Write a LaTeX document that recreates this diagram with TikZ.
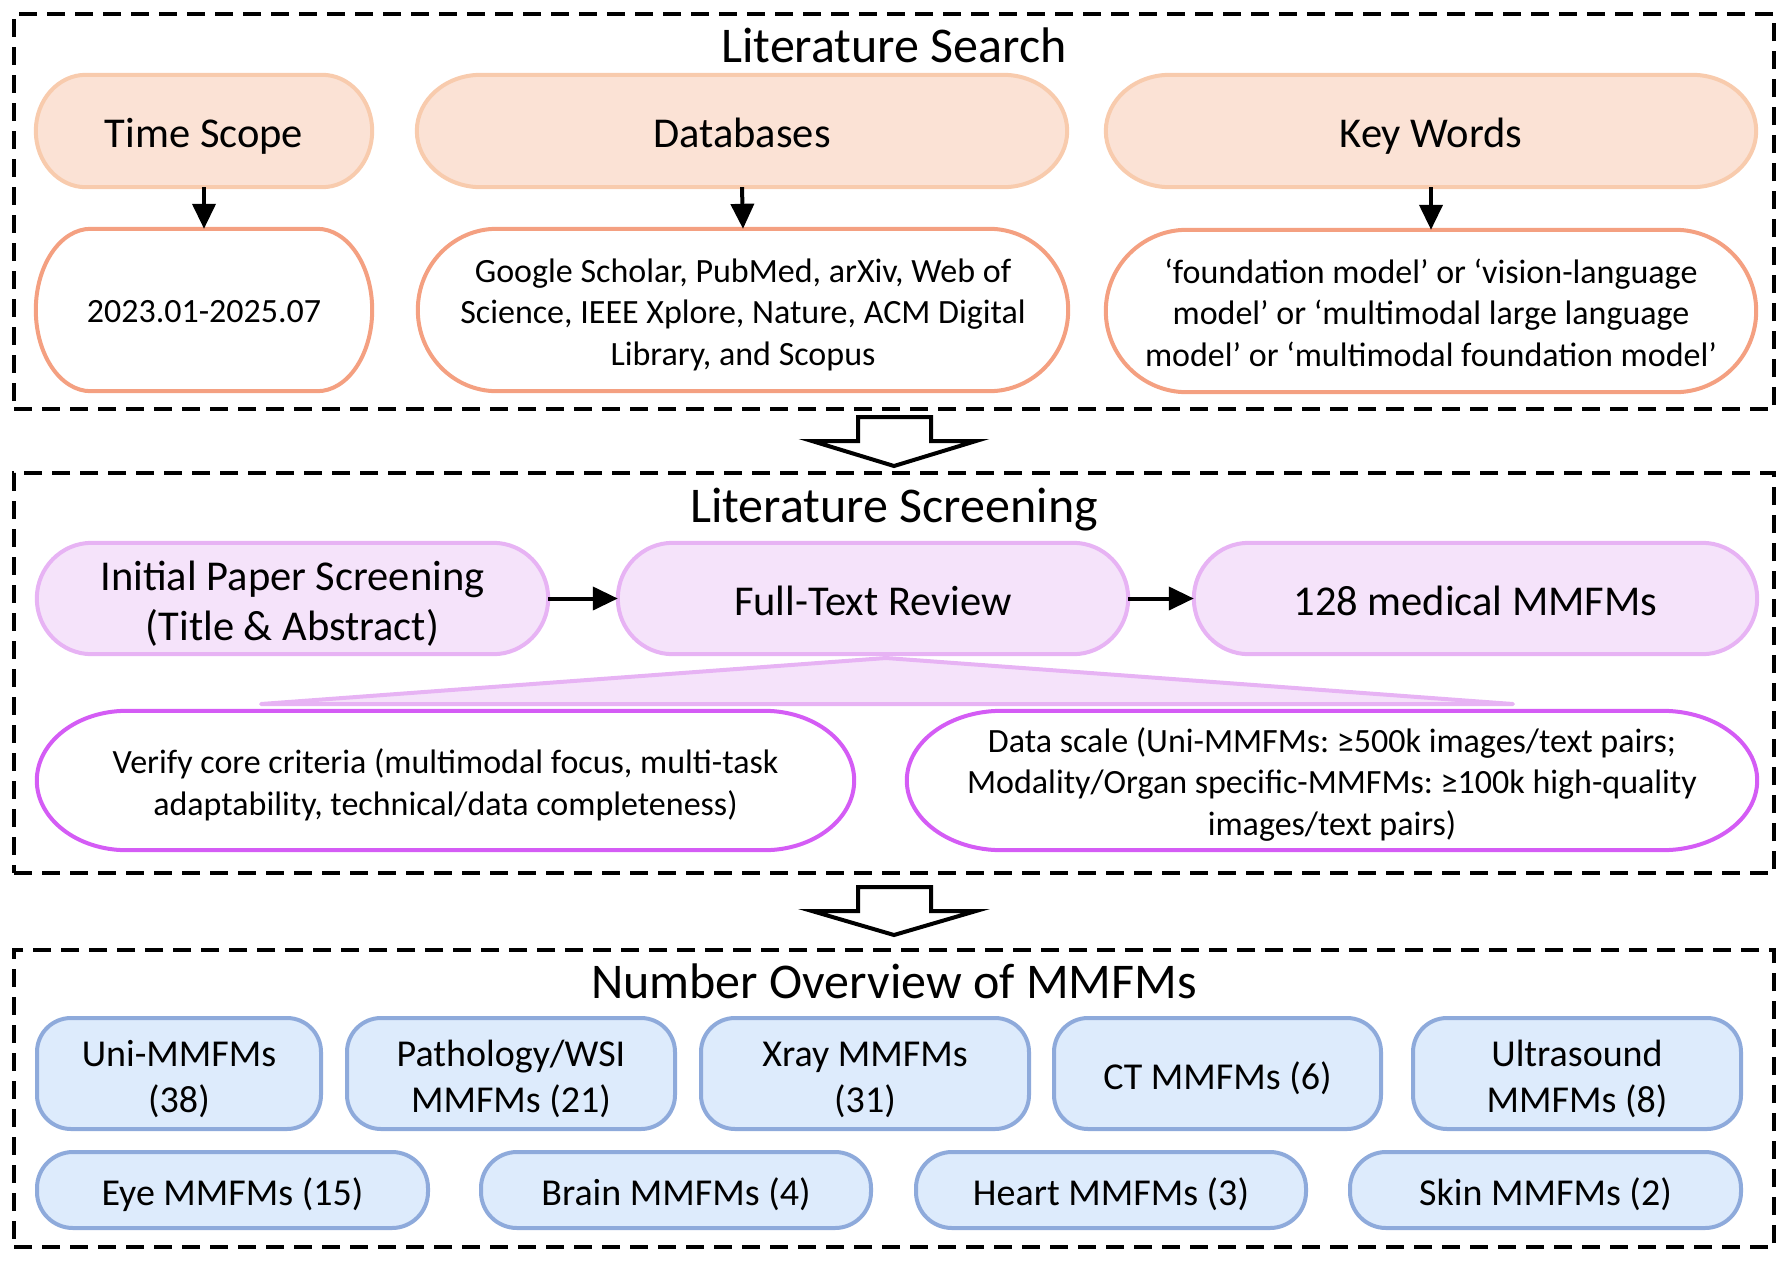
\documentclass[tikz,border=0pt]{standalone}
\usepackage{fontspec}
\setmainfont{Carlito}
\usepackage{tikz}
\usetikzlibrary{arrows.meta,calc,backgrounds}
\definecolor{orangefill}{HTML}{FBE2D5}
\definecolor{orangeline}{HTML}{F8CBAD}
\definecolor{salmonline}{HTML}{F4A081}
\definecolor{purplefill}{HTML}{F5E3FA}
\definecolor{purpleline}{HTML}{E7B3F4}
\definecolor{violetline}{HTML}{D45CF5}
\definecolor{bluefill}{HTML}{DDEBFC}
\definecolor{blueline}{HTML}{8EAADB}
\frenchspacing

% capsule outline with elliptical ends round a named node
\newcommand{\pill}[3]{%
  \path[#3] let \p1=(#1.north west), \p2=(#1.south east) in
    (\x1+#2,\y1) -- (\x2-#2,\y1)
    arc[start angle=90, end angle=-90, x radius=#2, y radius={0.5*(\y1)-0.5*(\y2)}]
    -- (\x1+#2,\y2)
    arc[start angle=270, end angle=90, x radius=#2, y radius={0.5*(\y1)-0.5*(\y2)}]
    -- cycle;}
% taller first line, pushes a text block down a little
\newcommand{\lift}[1]{\rule{0pt}{#1}}

\begin{document}
\begin{tikzpicture}[
        x=1pt, y=-1pt,
        ttl/.style={font=\fontsize{50}{60}\selectfont, anchor=base, inner sep=0pt},
        hd/.style={font=\fontsize{42.5}{50}\selectfont, align=center, inner sep=0pt,
                execute at begin node={\lift{#1}}},
        hd/.default=40pt,
        tx/.style={font=\fontsize{34}{41.5}\selectfont, align=center, inner sep=0pt,
                execute at begin node={\lift{#1}}},
        tx/.default=33pt,
        frm/.style={draw, line width=4.5pt, dash pattern=on 18pt off 10pt, inner sep=0pt},
        cnt/.style={draw=blueline, fill=bluefill, line width=4pt, rounded corners=34pt,
                font=\fontsize{38}{46}\selectfont, align=center, inner sep=0pt,
                execute at begin node={\lift{37pt}}},
        sig/.style={-{Triangle[length=25pt,width=23pt]}, line width=4pt},
        hollow/.style={draw, fill=white, line width=4pt, line join=miter},
        topbox/.style={draw=orangeline, fill=orangefill, line width=4pt},
        listbox/.style={draw=salmonline, fill=white, line width=4pt},
        stepbox/.style={draw=purpleline, fill=purplefill, line width=4pt},
        critbox/.style={draw=violetline, fill=white, line width=4pt}
    ]

    \useasboundingbox (0,0) rectangle (1788,1261);

    % ================= literature search =================
    \node[frm, minimum width=1760pt, minimum height=395pt] (search) at (894,211.5) {};
    \node[ttl] (searchttl) at (894,62) {Literature Search};

    \node[hd, minimum width=336pt, minimum height=112pt] (time)   at (204,131)  {Time Scope};
    \node[hd=34pt, minimum width=650pt, minimum height=112pt] (dbase)  at (742,131)  {Databases};
    \node[hd, minimum width=650pt, minimum height=112pt] (kwords) at (1431,131) {Key Words};

    \node[tx=26pt, minimum width=336pt, minimum height=162pt] (trange) at (204,310) {2023.01-2025.07};
    \node[tx, minimum width=650pt, minimum height=162pt] (dblist) at (743,310)
    {\lift{33pt}Google Scholar, PubMed, arXiv, Web of\\Science, IEEE Xplore, Nature, ACM Digital\\Library, and Scopus};
    \node[tx, minimum width=650pt, minimum height=162pt] (kwlist) at (1431,311)
    {\lift{28pt}‘foundation model’ or ‘vision-language\\model’ or ‘multimodal large language\\model’ or ‘multimodal foundation model’};

    \draw[sig] (time.south) -- (trange.north);
    \draw[sig] (dbase.south) -- (dblist.north);
    \draw[sig] (kwords.south) -- (kwlist.north);

    % ================= hollow arrow 1 =================
    \draw[hollow] (858,417) -- (931,417) -- (931,441) -- (976,441) -- (894,466)
    -- (812,441) -- (858,441) -- cycle;

    % ================= literature screening =================
    \node[frm, minimum width=1760pt, minimum height=400pt] (screen) at (894,673) {};
    \node[ttl] (screenttl) at (894,522) {Literature Screening};

    \node[hd, minimum width=511pt, minimum height=111pt] (initial)  at (292.5,598.5)
    {\lift{40pt}Initial Paper Screening\\(Title \& Abstract)};
    \node[hd=34pt, minimum width=510pt, minimum height=111pt] (fulltext) at (873,598.5) {Full-Text Review};
    \node[hd=34pt, minimum width=563pt, minimum height=111pt] (final)    at (1475.5,598.5) {128 medical MMFMs};

    \draw[sig] (initial.east) -- (fulltext.west);
    \draw[sig] (fulltext.east) -- (final.west);

    \draw[stepbox, line join=round] (261,704) -- (886,658) -- (1513,704) -- cycle;

    \node[tx, minimum width=817pt, minimum height=139pt] (verify) at (445.5,780.5)
    {\lift{33pt}Verify core criteria (multimodal focus, multi-task\\adaptability, technical/data completeness)};
    \node[tx, minimum width=850pt, minimum height=139pt] (scale)  at (1332,780.5)
    {\lift{32pt}Data scale (Uni-MMFMs: ≥500k images/text pairs;\\Modality/Organ specific-MMFMs: ≥100k high-quality\\images/text pairs)};

    % ================= hollow arrow 2 =================
    \draw[hollow] (858,887) -- (931,887) -- (931,911) -- (976,911) -- (894,935)
    -- (812,911) -- (858,911) -- cycle;

    % ================= number overview =================
    \node[frm, minimum width=1760pt, minimum height=297pt] (count) at (894,1098.5) {};
    \node[ttl] (countttl) at (894,998) {Number Overview of MMFMs};

    \node[cnt, minimum width=284pt, minimum height=111pt] (uni)    at (179,1073.5)  {\lift{37pt}Uni-MMFMs\\(38)};
    \node[cnt, minimum width=328pt, minimum height=111pt] (patho)  at (511,1073.5)  {\lift{37pt}Pathology/WSI\\MMFMs (21)};
    \node[cnt, minimum width=328pt, minimum height=111pt] (xray)   at (865,1073.5)  {\lift{37pt}Xray MMFMs\\(31)};
    \node[cnt, minimum width=327pt, minimum height=111pt] (ct)     at (1217.5,1073.5) {CT MMFMs (6)};
    \node[cnt, minimum width=328pt, minimum height=111pt] (ultra)  at (1577,1073.5) {\lift{37pt}Ultrasound\\MMFMs (8)};

    \node[cnt, minimum width=391pt, minimum height=76pt, rounded corners=36pt] (eye)   at (232.5,1190)  {Eye MMFMs (15)};
    \node[cnt, minimum width=390pt, minimum height=76pt, rounded corners=36pt] (brain) at (676,1190)    {Brain MMFMs (4)};
    \node[cnt, minimum width=390pt, minimum height=76pt, rounded corners=36pt] (heart) at (1111,1190)   {Heart MMFMs (3)};
    \node[cnt, minimum width=391pt, minimum height=76pt, rounded corners=36pt] (skin)  at (1545.5,1190) {Skin MMFMs (2)};

    % ================= capsule outlines =================
    \begin{scope}[on background layer]
        \pill{time}{50pt}{topbox}
        \pill{dbase}{64pt}{topbox}
        \pill{kwords}{64pt}{topbox}
        \pill{trange}{55pt}{listbox}
        \pill{dblist}{79pt}{listbox}
        \pill{kwlist}{81pt}{listbox}
        \pill{initial}{55pt}{stepbox}
        \pill{fulltext}{55pt}{stepbox}
        \pill{final}{55pt}{stepbox}
        \pill{verify}{90pt}{critbox}
        \pill{scale}{95pt}{critbox}
    \end{scope}

\end{tikzpicture}
\end{document}
